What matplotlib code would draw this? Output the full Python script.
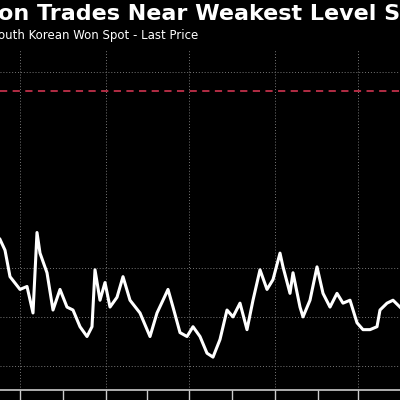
import matplotlib
matplotlib.use("Agg")
import matplotlib.pyplot as plt

# approximate days (x position) and USD/KRW level
days = [0, 5, 10, 20, 27, 33, 37, 40, 47, 53, 60, 67, 73, 80, 87, 92, 95, 100, 105, 110,
        117, 123, 130, 140, 150, 157, 163, 168, 173, 180, 187, 193, 200, 207, 213, 220,
        227, 233, 240, 247, 253, 260, 267, 273, 280, 283, 290, 293, 300, 303, 310, 317,
        323, 330, 337, 343, 350, 357, 363, 370, 377, 380, 387, 393, 400]
won = [1279, 1268, 1241, 1228, 1231, 1204, 1286, 1265, 1245, 1207, 1228, 1210, 1207,
       1190, 1180, 1190, 1248, 1217, 1235, 1210, 1220, 1241, 1217, 1204, 1180, 1204,
       1217, 1228, 1210, 1184, 1180, 1190, 1180, 1163, 1159, 1177, 1207, 1200, 1214,
       1187, 1217, 1248, 1228, 1238, 1265, 1251, 1224, 1245, 1210, 1200, 1217, 1251,
       1224, 1210, 1224, 1214, 1217, 1194, 1187, 1187, 1190, 1207, 1214, 1217, 1210]
weakest = 1430
grid_y = [1150, 1200, 1250, 1450]
grid_x = [20, 106, 189, 275, 358]
minor_x = [63, 147, 232, 318]

fig = plt.figure(figsize=(4, 4), dpi=100, facecolor="black")
ax = fig.add_axes([0, 0.025, 1, 0.85], facecolor="black")

ax.plot(days, won, color="white", linewidth=2.2)
ax.axhline(weakest, color="#c0304a", linestyle=(0, (4, 3)), linewidth=1.3)

for gx in grid_x:
    ax.axvline(gx, color="#777777", linestyle=(0, (1, 2)), linewidth=0.7, zorder=0)
for gy in grid_y:
    ax.axhline(gy, color="#777777", linestyle=(0, (1, 2)), linewidth=0.7, zorder=0)

ax.set_xlim(0, 400)
ax.set_ylim(1125.5, 1472)
for s in ["top", "left", "right"]:
    ax.spines[s].set_visible(False)
ax.spines["bottom"].set_color("#cccccc")
ax.spines["bottom"].set_linewidth(1.2)
ax.set_xticks(grid_x + minor_x)
ax.set_xticklabels([])
ax.tick_params(axis="x", direction="out", length=10, color="#cccccc", width=1)
ax.set_yticks([])

fig.text(-0.005, 0.99, "on Trades Near Weakest Level Since", color="white",
         fontsize=16, fontweight="bold", ha="left", va="top")
fig.text(-0.005, 0.91, "outh Korean Won Spot - Last Price", color="white",
         fontsize=8.5, ha="left", va="center")

fig.savefig("out.png", facecolor="black")
